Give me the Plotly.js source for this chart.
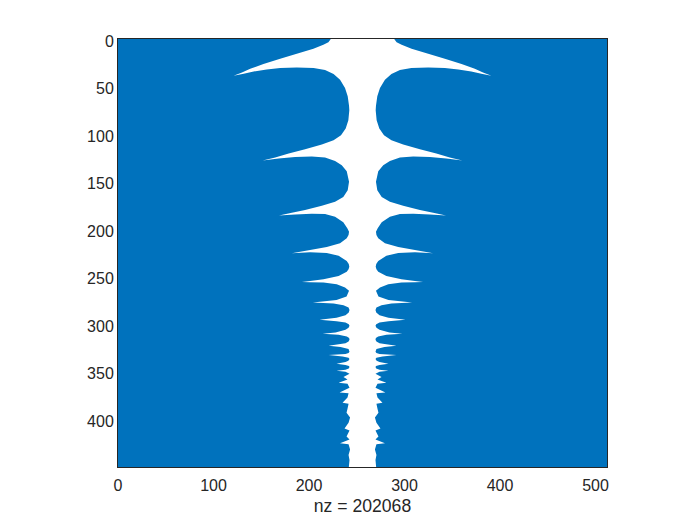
<!DOCTYPE html>
<html>
<head>
<meta charset="utf-8">
<script src="https://cdn.plot.ly/plotly-3.0.1.min.js"></script>
<style>html,body{margin:0;padding:0;background:#fff}</style>
</head>
<body>
<div id="chart" style="width:700px;height:525px"></div>
<script>
const xTicks = [0, 100, 200, 300, 400, 500];
const yTicks = [0, 50, 100, 150, 200, 250, 300, 350, 400];
const nColumns = 512;
const nRows = 450;
const centreColumn = 256;
const xLabel = 'nz = 202068';
const rowAlongEdge = [0,3.4,6.1,10.3,15.5,20.8,26.4,31.3,35.1,38.6,36.5,34.1,32,30.6,29.9,30.6,32.7,36.9,42.8,51.6,60.3,70.1,75,85.5,94.2,101.2,106.5,111,115.9,120.4,124.6,127.8,125.7,124,123.6,124.6,128.2,132.7,139,150.2,158.9,166,171.2,175.4,179.9,182.7,185.5,184.4,183.8,184.1,186.9,192.8,199.1,202.7,206,209.6,214.8,218.7,221.9,225.3,224.3,225,227.8,233.4,236.6,239.4,242.2,244.6,249.1,252.6,254.4,255.4,255.7,255.9,257.8,261.4,264.6,270.8,274.3,277,278.1,279.9,282.3,284.8,287.5,290.4,293.2,295.3,296.7,298.1,299.8,301.6,303.7,305.8,308.6,310,311,312.8,314.5,316.3,318,319.8,322.6,323.9,326,328.9,330.2,331.3,332.3,333.8,335.2,336.5,338.2,339.7,341.5,342.8,343.8,344.9,346.4,347.7,348.8,349.8,352,355.4,358,361.4,362.4,366.6,371.6,372.4,377,382.4,383.4,388.8,393,398,403.4,409.6,411.7,418,421.2,425,426,431.5,437.3,442.6,450];
const gapHalfWidth = [33.2,35.7,41,51.4,68.8,86.2,103.7,117.6,126.2,135,124.4,113.9,100.3,86.2,68.8,51.2,39.2,30.3,23.5,18.3,15.5,14.1,13.8,14.8,17.6,22.5,30.3,42.6,60.1,77.3,91.4,104.5,87.8,70.5,53.1,39.2,28.7,21.7,16.5,14.1,15.5,20.1,28.7,42.6,60.1,74,87.5,70.5,53.1,39.2,28.7,20.1,15.9,14.1,14.6,16.5,23.5,37.4,54.9,74,54.9,37.4,25,16.5,14.4,13.8,14.6,16.5,25,40.8,54.9,63.5,54.9,40.8,27,18.3,14.1,16.7,27.2,52,30.3,19.9,14.6,13.6,14.4,17.8,27.2,45,27.2,17.8,14.4,13.6,14.6,17.8,28.2,41.8,25,16.4,14,13.6,14.6,17.8,35.5,23,14.6,13.6,14.6,17.8,35.5,20.9,14.6,13.6,14.8,17.8,27.2,17.8,14.2,13.6,14.4,17.8,27.2,17.8,13.6,19.9,15.7,25,15.7,13.6,24,14.6,15.7,20.9,14.6,15.7,16.7,13,14.6,18.8,13.6,16.7,13.6,23.5,14.6,13,14.6,13.6,14.3];

const blue = '#0072BD';
const ink = '#262626';
const fontFamily = '"Liberation Sans", Arial, sans-serif';

const leftEdge = gapHalfWidth.map(h => centreColumn - h);
const rightEdge = gapHalfWidth.map(h => centreColumn + h);

const block = (xs, ys) => ({
  type: 'scatter', mode: 'lines', x: xs, y: ys, fill: 'toself', fillcolor: blue,
  line: {width: 0, color: blue, simplify: false}, hoverinfo: 'skip', showlegend: false
});

const traces = [
  block([0, ...leftEdge, 0], [0, ...rowAlongEdge, nRows]),
  block([nColumns, ...rightEdge, nColumns], [0, ...rowAlongEdge, nRows])
];

const axisBase = {
  showgrid: false, zeroline: false, showline: true, mirror: true, linecolor: ink, linewidth: 1,
  ticks: '', layer: 'below traces', tickfont: {family: fontFamily, size: 16, color: ink}, tickmode: 'array'
};

const layout = {
  width: 700, height: 525, autosize: false,
  paper_bgcolor: '#fff', plot_bgcolor: '#fff', showlegend: false,
  margin: {l: 117.5, r: 93, t: 38.5, b: 57.5, pad: 0},
  xaxis: {...axisBase, range: [0, nColumns], tickvals: xTicks, ticktext: xTicks.map(String), ticklabelstandoff: 4,
    title: {text: xLabel, font: {family: fontFamily, size: 17.6, color: ink}, standoff: 6}},
  yaxis: {...axisBase, range: [nRows, 0], tickvals: yTicks, ticktext: yTicks.map(String), ticklabelshift: -2}
};

Plotly.newPlot('chart', traces, layout, {displayModeBar: false, staticPlot: true});
</script>
</body>
</html>
